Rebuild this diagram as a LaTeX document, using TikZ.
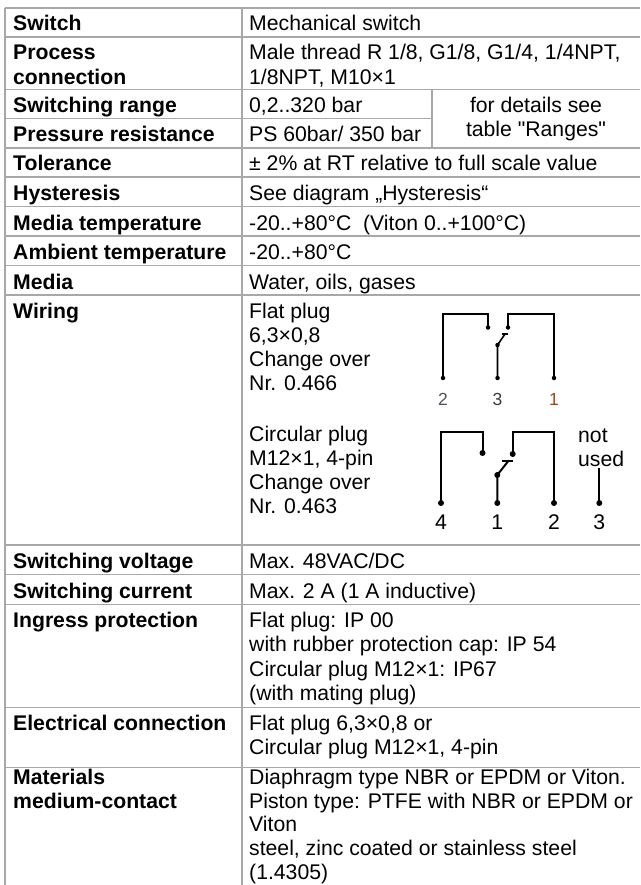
\documentclass[tikz,border=0pt]{standalone}
\usepackage{fontspec}
\setmainfont{Liberation Sans}[Ligatures=TeXOff]
\usetikzlibrary{positioning, calc}

\definecolor{rulegray}{RGB}{168,168,168}
\definecolor{pinslate}{RGB}{78,84,92}
\definecolor{pindark}{RGB}{60,60,60}
\definecolor{pinrust}{RGB}{150,70,45}

\begin{document}
\begin{tikzpicture}[
    x=1pt, y=-1pt,
    font=\fontsize{21.2}{24.3}\selectfont,
    key_text/.style={anchor=base west, inner sep=0pt, align=left, font=\fontsize{21.2}{24.3}\selectfont\bfseries},
    value_text/.style={anchor=base west, inner sep=0pt, align=left},
    nlines/.style={yshift={-(#1-1)*24.3pt}},
    tight_lines/.style={yshift={-(#1-1)*23.7pt}},
    rule_line/.style={draw=rulegray, line width=1.2pt},
    wire/.style={draw, line width=2pt},
    flat_wire/.style={draw, line width=1.6pt},
    pin_dot/.style={circle, fill, inner sep=0pt, minimum size=6pt},
    flat_dot/.style={circle, fill, inner sep=0pt, minimum size=4.5pt},
    pin_label/.style={anchor=base, inner sep=0pt},
    flat_label/.style={anchor=base, inner sep=0pt, font=\fontsize{17.5}{20}\selectfont}
]

    % Page
    \fill[white] (0,0) rectangle (640,885);
    \useasboundingbox (0,0) rectangle (640,885);

    % Grid
    \foreach \y in {8, 37, 89.5, 148, 177, 206.5, 236, 265.5, 295, 545, 574.5, 604.5, 707.5, 767.5}
        \draw[rule_line] (5,\y) -- (640,\y);
    \draw[rule_line] (5,118.5) -- (432,118.5);
    \draw[rule_line] (5,8) -- (5,885);
    \draw[rule_line] (242,8) -- (242,885);
    \draw[rule_line] (432,89.5) -- (432,148);

    % Left column
    \node[key_text] (switch) at (13,31) {Switch};
    \node[key_text, nlines=2] (process) at (13,60) {Process\\connection};
    \node[key_text] (range) at (13,112.5) {Switching range};
    \node[key_text] (resist) at (13,142) {Pressure resistance};
    \node[key_text] (toler) at (13,171) {Tolerance};
    \node[key_text] (hyst) at (13,200.5) {Hysteresis};
    \node[key_text] (mtemp) at (13,230) {Media temperature};
    \node[key_text] (atemp) at (13,259.5) {Ambient temperature};
    \node[key_text] (media) at (13,289) {Media};
    \node[key_text] (wiring) at (13,318) {Wiring};
    \node[key_text] (volt) at (13,568) {Switching voltage};
    \node[key_text] (curr) at (13,598) {Switching current};
    \node[key_text] (ingress) at (13,627.5) {Ingress protection};
    \node[key_text] (elec) at (13,730.5) {Electrical connection};
    \node[key_text, font=\fontsize{21.2}{23.7}\selectfont\bfseries, tight_lines=2] (mater) at (13,784.5) {Materials\\medium-contact};

    % Right column
    \node[value_text] (switch_val) at (249,31) {Mechanical switch};
    \node[value_text, nlines=2] (process_val) at (249,60) {Male thread R 1/8, G1/8, G1/4, 1/4NPT,\\1/8NPT, M10×1};
    \node[value_text] (range_val) at (249,112.5) {0,2..320 bar};
    \node[value_text] (resist_val) at (249,142) {PS 60bar/ 350 bar};
    \node[anchor=base, inner sep=0pt, align=center, nlines=2] (ranges_note) at (536,112.5) {for details see\\table "Ranges"};
    \node[value_text] (toler_val) at (249,171) {± 2\% at RT relative to full scale value};
    \node[value_text] (hyst_val) at (249,200.5) {See diagram „Hysteresis“};
    \node[value_text] (mtemp_val) at (249,230) {-20..+80°C\ \ (Viton 0..+100°C)};
    \node[value_text] (atemp_val) at (249,259.5) {-20..+80°C};
    \node[value_text] (media_val) at (249,289) {Water, oils, gases};
    \node[value_text, nlines=4] (flat_val) at (249,318) {Flat plug\\6,3×0,8\\Change over\\Nr. 0.466};
    \node[value_text, nlines=4] (circ_val) at (249,441) {Circular plug\\M12×1, 4-pin\\Change over\\Nr. 0.463};
    \node[value_text] (volt_val) at (249,568) {Max. 48VAC/DC};
    \node[value_text] (curr_val) at (249,598) {Max. 2 A (1 A inductive)};
    \node[value_text, nlines=4] (ingress_val) at (249,627.5) {Flat plug: IP 00\\with rubber protection cap: IP 54\\Circular plug M12×1: IP67\\(with mating plug)};
    \node[value_text, nlines=2] (elec_val) at (249,730.5) {Flat plug 6,3×0,8 or\\Circular plug M12×1, 4-pin};
    \node[value_text, font=\fontsize{21.2}{23.7}\selectfont, tight_lines=5] (mater_val) at (249,784.5) {Diaphragm type NBR or EPDM or Viton.\\Piston type: PTFE with NBR or EPDM or\\Viton\\steel, zinc coated or stainless steel\\(1.4305)};

    % Flat plug contacts
    \coordinate (fp_top2) at (443,314);
    \coordinate (fp_nc_top) at (488,314);
    \coordinate (fp_no_top) at (508,314);
    \coordinate (fp_top1) at (554,314);
    \coordinate (fp_tip) at (505,334);
    \coordinate (fp_bar_l) at (502,334);
    \coordinate (fp_bar_r) at (508,334);
    \node[flat_dot] (fp_nc) at (488,327.5) {};
    \node[flat_dot] (fp_no) at (508,327.5) {};
    \node[flat_dot] (fp_piv) at (497.5,345) {};
    \node[flat_dot] (fp_pin2) at (443,378) {};
    \node[flat_dot] (fp_pin3) at (497.5,378) {};
    \node[flat_dot] (fp_pin1) at (554,378) {};
    \draw[flat_wire] (fp_pin2.center) -- (fp_top2) -- (fp_nc_top) -- (fp_nc.center);
    \draw[flat_wire] (fp_pin1.center) -- (fp_top1) -- (fp_no_top) -- (fp_no.center);
    \draw[flat_wire] (fp_pin3.center) -- (fp_piv.center) -- (fp_tip);
    \draw[flat_wire] (fp_bar_l) -- (fp_bar_r);
    \node[flat_label, text=pinslate] (fp_lab2) at (443,405) {2};
    \node[flat_label, text=pindark] (fp_lab3) at (497.5,405) {3};
    \node[flat_label, text=pinrust] (fp_lab1) at (554,405) {1};

    % Circular plug contacts
    \coordinate (cp_top4) at (441,432);
    \coordinate (cp_nc_top) at (482.5,432);
    \coordinate (cp_no_top) at (512.7,432);
    \coordinate (cp_top2) at (554,432);
    \coordinate (cp_tip) at (508.3,461);
    \coordinate (cp_bar_l) at (501.7,461);
    \coordinate (cp_bar_r) at (513.3,461);
    \coordinate (cp_free) at (599.3,468);
    \node[pin_dot] (cp_nc) at (482.5,453) {};
    \node[pin_dot] (cp_no) at (512.7,454) {};
    \node[pin_dot] (cp_piv) at (497.3,475) {};
    \node[pin_dot] (cp_pin4) at (441,503) {};
    \node[pin_dot] (cp_pin1) at (497.3,503) {};
    \node[pin_dot] (cp_pin2) at (554,503) {};
    \node[pin_dot] (cp_pin3) at (599.3,503) {};
    \draw[wire] (cp_pin4.center) -- (cp_top4) -- (cp_nc_top) -- (cp_nc.center);
    \draw[wire] (cp_pin2.center) -- (cp_top2) -- (cp_no_top) -- (cp_no.center);
    \draw[wire] (cp_pin1.center) -- (cp_piv.center) -- (cp_tip);
    \draw[wire] (cp_bar_l) -- (cp_bar_r);
    \draw[wire] (cp_free) -- (cp_pin3.center);
    \node[pin_label] (cp_lab4) at (441,529) {4};
    \node[pin_label] (cp_lab1) at (497.3,529) {1};
    \node[pin_label] (cp_lab2) at (554,529) {2};
    \node[pin_label] (cp_lab3) at (599.3,529) {3};
    \node[value_text, nlines=2] (unused) at (578,442) {not\\used};

\end{tikzpicture}
\end{document}
